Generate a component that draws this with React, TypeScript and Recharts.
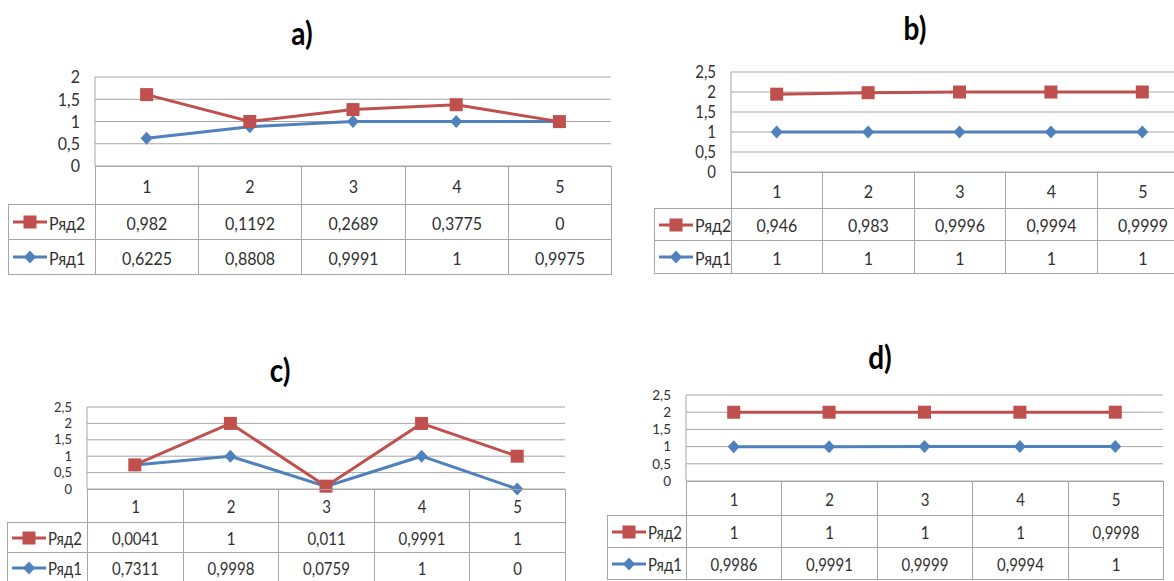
import React from 'react';
import { AreaChart, Area, XAxis, YAxis, CartesianGrid } from 'recharts';

const categories = ['1', '2', '3', '4', '5'];
const seriesNames = ['Ряд1', 'Ряд2'];

// a)
const seriesA1 = [0.6225, 0.8808, 0.9991, 1, 0.9975];
const seriesA2 = [0.982, 0.1192, 0.2689, 0.3775, 0];
// b)
const seriesB1 = [1, 1, 1, 1, 1];
const seriesB2 = [0.946, 0.983, 0.9996, 0.9994, 0.9999];
// c)
const seriesC1 = [0.7311, 0.9998, 0.0759, 1, 0];
const seriesC2 = [0.0041, 1, 0.011, 0.9991, 1];
// d)
const seriesD1 = [0.9986, 0.9991, 0.9999, 0.9994, 1];
const seriesD2 = [1, 1, 1, 1, 0.9998];

const ticksTo2 = [0, 0.5, 1, 1.5, 2];
const ticksTo25 = [0, 0.5, 1, 1.5, 2, 2.5];

const RED = '#C0504D';
const BLUE = '#4F81BD';
const GRID = '#a6a6a6';
const TEXT = '#303030';
const FONT = 'Lato, "Noto Sans", sans-serif';
const AXIS_W = 60;
const PAD = 12;
// table and title text is drawn a little taller than the font's natural proportions
const STRETCH = 1.13;

type Layout = {
  titleX: number;
  titleY: number;
  legendLeft: number;
  plotLeft: number;
  plotTop: number;
  plotRight: number;
  plotBottom: number;
  rowEdges: number[];
  fontSize: number;
  tickFont: number;
  tickStretch: number;
};

const layoutA: Layout = { titleX: 302, titleY: 33, legendLeft: 8, plotLeft: 95, plotTop: 77, plotRight: 611, plotBottom: 166, rowEdges: [204, 239, 274], fontSize: 16, tickFont: 16, tickStretch: 1.1 };
const layoutB: Layout = { titleX: 915, titleY: 28, legendLeft: 654, plotLeft: 731, plotTop: 72, plotRight: 1188, plotBottom: 172, rowEdges: [208, 240, 273], fontSize: 16, tickFont: 15, tickStretch: 1.1 };
const layoutC: Layout = { titleX: 280, titleY: 370, legendLeft: 7, plotLeft: 87, plotTop: 407, plotRight: 565, plotBottom: 489, rowEdges: [522, 552, 582], fontSize: 15, tickFont: 13, tickStretch: 1 };
const layoutD: Layout = { titleX: 880, titleY: 357, legendLeft: 607, plotLeft: 686, plotTop: 395, plotRight: 1163, plotBottom: 481, rowEdges: [515, 547, 579], fontSize: 15, tickFont: 13.5, tickStretch: 1 };

const fmt = (v: number) => String(v).replace('.', ',');

const Square = (p: any) => {
  if (p.cx == null || p.cy == null) return <g key={p.index} />;
  return <rect key={p.index} x={p.cx - 6.5} y={p.cy - 6.5} width={13} height={13} fill={RED} />;
};

const Diamond = (p: any) => {
  if (p.cx == null || p.cy == null) return <g key={p.index} />;
  const { cx, cy } = p;
  return <path key={p.index} d={`M${cx},${cy - 6.5}L${cx + 6},${cy}L${cx},${cy + 6.5}L${cx - 6},${cy}Z`} fill={BLUE} />;
};

const makeTick = (fontSize: number, stretch: number) => (p: any) => (
  <g transform={`translate(${p.x},${p.y}) scale(1,${stretch})`}>
    <text textAnchor="end" dy="0.36em" fontFamily={FONT} fontSize={fontSize} fill={TEXT}>
      {fmt(p.payload.value)}
    </text>
  </g>
);

function LegendKey({ kind }: { kind: 'square' | 'diamond' }) {
  const color = kind === 'square' ? RED : BLUE;
  return (
    <svg width={34} height={14} style={{ flex: 'none', marginRight: 2 }}>
      <line x1={0} y1={7} x2={34} y2={7} stroke={color} strokeWidth={3} />
      {kind === 'square'
        ? <rect x={10.5} y={0.5} width={13} height={13} fill={color} />
        : <path d="M17,0.5L23,7L17,13.5L11,7Z" fill={color} />}
    </svg>
  );
}

function Cell({ x, y, w, h, fontSize, children, align = 'center' }: any) {
  return (
    <div
      style={{
        position: 'absolute', left: x, top: y, width: w + 1, height: h + 1,
        boxSizing: 'border-box', border: `1px solid ${GRID}`,
        display: 'flex', alignItems: 'center',
        justifyContent: align === 'left' ? 'flex-start' : 'center',
        paddingLeft: align === 'left' ? 4 : 0,
        fontFamily: FONT, fontSize, color: TEXT, whiteSpace: 'nowrap',
      }}
    >
      {children}
    </div>
  );
}

const Txt = ({ children }: any) => (
  <span style={{ display: 'inline-block', transform: `scaleY(${STRETCH})` }}>{children}</span>
);

function DataTable({ lay, s1, s2 }: { lay: Layout; s1: number[]; s2: number[] }) {
  const colW = (lay.plotRight - lay.plotLeft) / categories.length;
  const [catB, r2B, r1B] = lay.rowEdges;
  const xs = categories.map((_, i) => Math.round(lay.plotLeft + i * colW));
  const w = (i: number) => Math.round(lay.plotLeft + (i + 1) * colW) - xs[i];
  const legendW = lay.plotLeft - lay.legendLeft;
  return (
    <>
      {categories.map((c, i) => (
        <Cell key={'c' + i} x={xs[i]} y={lay.plotBottom} w={w(i)} h={catB - lay.plotBottom} fontSize={lay.fontSize}><Txt>{c}</Txt></Cell>
      ))}
      <Cell x={lay.legendLeft} y={catB} w={legendW} h={r2B - catB} fontSize={lay.fontSize} align="left">
        <LegendKey kind="square" /><Txt>{seriesNames[1]}</Txt>
      </Cell>
      {s2.map((v, i) => (
        <Cell key={'r2' + i} x={xs[i]} y={catB} w={w(i)} h={r2B - catB} fontSize={lay.fontSize}><Txt>{fmt(v)}</Txt></Cell>
      ))}
      <Cell x={lay.legendLeft} y={r2B} w={legendW} h={r1B - r2B} fontSize={lay.fontSize} align="left">
        <LegendKey kind="diamond" /><Txt>{seriesNames[0]}</Txt>
      </Cell>
      {s1.map((v, i) => (
        <Cell key={'r1' + i} x={xs[i]} y={r2B} w={w(i)} h={r1B - r2B} fontSize={lay.fontSize}><Txt>{fmt(v)}</Txt></Cell>
      ))}
    </>
  );
}

function Panel({ title, s1, s2, ticks, lay }: { title: string; s1: number[]; s2: number[]; ticks: number[]; lay: Layout }) {
  const yMax = ticks[ticks.length - 1];
  const plotW = lay.plotRight - lay.plotLeft;
  const plotH = lay.plotBottom - lay.plotTop;
  const colW = plotW / categories.length;
  const data = categories.map((c, i) => ({ cat: c, r1: s1[i], r2: s2[i] }));
  return (
    <>
      <div
        style={{
          position: 'absolute', left: lay.titleX, top: lay.titleY,
          transform: `translate(-50%, -50%) scaleY(${STRETCH})`, fontFamily: FONT,
          fontWeight: 700, fontSize: 28, color: '#000', lineHeight: 1,
        }}
      >
        {title}
      </div>
      <div style={{ position: 'absolute', left: lay.plotLeft - AXIS_W, top: lay.plotTop - PAD }}>
        <AreaChart
          width={AXIS_W + plotW}
          height={plotH + 2 * PAD}
          data={data}
          margin={{ top: PAD, bottom: PAD, left: 0, right: 0 }}
        >
          <CartesianGrid vertical={false} stroke={GRID} />
          <XAxis dataKey="cat" hide padding={{ left: colW / 2, right: colW / 2 }} />
          <YAxis
            width={AXIS_W}
            domain={[0, yMax]}
            ticks={ticks}
            interval={0}
            tickSize={0}
            tickMargin={15}
            tickLine={false}
            axisLine={{ stroke: GRID }}
            tick={makeTick(lay.tickFont, lay.tickStretch)}
          />
          <Area
            type="linear"
            dataKey="r1"
            name={seriesNames[0]}
            stackId="s"
            stroke={BLUE}
            strokeWidth={3}
            fill="none"
            dot={Diamond}
            activeDot={false}
            isAnimationActive={false}
          />
          <Area
            type="linear"
            dataKey="r2"
            name={seriesNames[1]}
            stackId="s"
            stroke={RED}
            strokeWidth={3}
            fill="none"
            dot={Square}
            activeDot={false}
            isAnimationActive={false}
          />
        </AreaChart>
      </div>
      <DataTable lay={lay} s1={s1} s2={s2} />
    </>
  );
}

export default function App() {
  return (
    <div
      style={{
        position: 'fixed', left: 0, top: 0, width: 1174, height: 581,
        overflow: 'hidden', background: '#fff',
      }}
    >
      <Panel title="a)" s1={seriesA1} s2={seriesA2} ticks={ticksTo2} lay={layoutA} />
      <Panel title="b)" s1={seriesB1} s2={seriesB2} ticks={ticksTo25} lay={layoutB} />
      <Panel title="c)" s1={seriesC1} s2={seriesC2} ticks={ticksTo25} lay={layoutC} />
      <Panel title="d)" s1={seriesD1} s2={seriesD2} ticks={ticksTo25} lay={layoutD} />
    </div>
  );
}
